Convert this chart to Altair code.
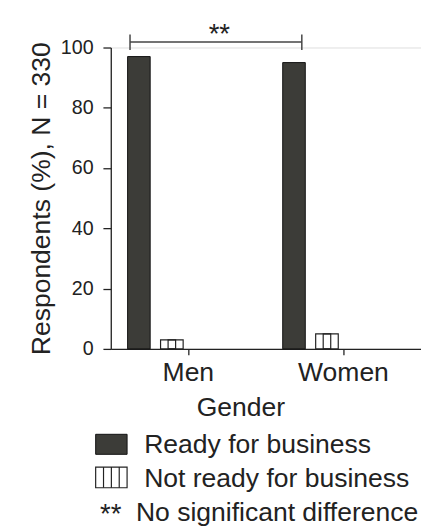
import altair as alt
import pandas as pd

# ---- data ----
genders = ["Men", "Women"]
statuses = ["Ready for business", "Not ready for business"]
ready_pct = [97, 95]
not_ready_pct = [3, 5]
slot_domain = statuses + ["(empty 1)", "(empty 2)"]
y_ticks = [0, 20, 40, 60, 80, 100]
y_title = "Respondents (%), N = 330"
x_title = "Gender"
sig_mark = "**"
legend_texts = ["Ready for business", "Not ready for business", "No significant difference"]

rows = []
for g, r, n in zip(genders, ready_pct, not_ready_pct):
    rows.append({"Gender": g, "Status": statuses[0], "Pct": r})
    rows.append({"Gender": g, "Status": statuses[1], "Pct": n})
df = pd.DataFrame(rows)

# ---- style / layout ----
W, H = 316, 307
FONT = "Liberation Sans"
DARK = "#3c3c38"
INK = "#222222"
FS = 27
PI, PO = 0.315, 0.51
band_px = W / len(genders)
offset_step = band_px / (len(slot_domain) - PI + 2 * PO)
offset_bw = offset_step * (1 - PI)
cell_px = offset_bw / 3

x_enc = alt.X(
    "Gender:N", sort=genders,
    scale=alt.Scale(paddingInner=0, paddingOuter=0),
    axis=alt.Axis(
        title=x_title, labelAngle=0, labelFont=FONT, labelFontSize=FS, labelColor=INK,
        labelBaseline="alphabetic", labelPadding=26, tickSize=6, tickColor=INK,
        tickWidth=1.3, domainColor=INK, domainWidth=1.3,
        titleFont=FONT, titleFontSize=FS, titleFontWeight="normal", titleColor=INK,
        titleX=132, titleY=68, titleBaseline="alphabetic", titleAlign="center",
    ),
)
xo_enc = alt.XOffset(
    "Status:N",
    scale=alt.Scale(domain=slot_domain, paddingInner=PI, paddingOuter=PO),
)
y_enc = alt.Y(
    "Pct:Q",
    scale=alt.Scale(domain=[0, 100]),
    axis=alt.Axis(
        values=y_ticks, title=y_title, grid=False, tickSize=8, tickColor=INK, tickWidth=1.3,
        domainColor=INK, domainWidth=1.3, labelFont=FONT, labelFontSize=20, labelColor=INK,
        labelPadding=10, titleFont=FONT, titleFontSize=FS, titleFontWeight="normal",
        titleColor=INK, titlePadding=5,
    ),
)

base = alt.Chart(df).encode(x=x_enc, xOffset=xo_enc, y=y_enc)
ready_bars = base.transform_filter(alt.datum.Status == statuses[0]).mark_bar(
    fill=DARK, stroke="#111111", strokeWidth=1
)
notready_bars = base.transform_filter(alt.datum.Status == statuses[1]).mark_bar(
    fill="white", stroke=INK, strokeWidth=1.2
)
hatch_bars = base.transform_filter(alt.datum.Status == statuses[1]).mark_bar(
    fill="white", fillOpacity=0, stroke=INK, strokeWidth=1.2, width=cell_px,
)

one = pd.DataFrame({"k": [0]})
layers = [ready_bars, notready_bars, hatch_bars]

# significance bracket (annotation)
BR_L, BR_R, BR_Y, BR_T, BR_B = 19.6, 194.6, -5.6, -13.3, 2.4
bracket_color = "#444444"
layers.append(alt.Chart(one).mark_rule(color=bracket_color, strokeWidth=1.5).encode(
    x=alt.value(BR_L), x2=alt.value(BR_R), y=alt.value(BR_Y)))
for bx in (BR_L, BR_R):
    layers.append(alt.Chart(one).mark_rule(color=bracket_color, strokeWidth=1.5).encode(
        x=alt.value(bx), y=alt.value(BR_T), y2=alt.value(BR_B)))
layers.append(alt.Chart(one).mark_text(
    font=FONT, fontSize=28, color=INK, align="center", baseline="alphabetic").encode(
    x=alt.value(110.6), y=alt.value(-4.5), text=alt.value(sig_mark)))

# custom legend (annotation)
SX0, SX1 = -15.4, 16.6
layers.append(alt.Chart(one).mark_rect(fill=DARK, stroke="#111111", strokeWidth=1).encode(
    x=alt.value(SX0), x2=alt.value(SX1), y=alt.value(394), y2=alt.value(414.4)))
layers.append(alt.Chart(one).mark_rect(fill="white", stroke=INK, strokeWidth=1.2).encode(
    x=alt.value(SX0), x2=alt.value(SX1), y=alt.value(427.4), y2=alt.value(448.4)))
for lx in (-7.4, 0.6, 8.6):
    layers.append(alt.Chart(one).mark_rule(color=INK, strokeWidth=1.2).encode(
        x=alt.value(lx), y=alt.value(427.4), y2=alt.value(448.4)))
text_rows = [(34, 413.4, legend_texts[0]), (34, 447.7, legend_texts[1]), (25.6, 482.7, legend_texts[2])]
for tx, ty, tt in text_rows:
    layers.append(alt.Chart(one).mark_text(
        font=FONT, fontSize=FS, color=INK, align="left", baseline="alphabetic").encode(
        x=alt.value(tx), y=alt.value(ty), text=alt.value(tt)))
layers.append(alt.Chart(one).mark_text(
    font=FONT, fontSize=28, color=INK, align="left", baseline="alphabetic").encode(
    x=alt.value(-11), y=alt.value(484), text=alt.value(sig_mark)))

chart = alt.layer(*layers).properties(
    width=W, height=H,
    padding={"left": 104.7, "top": 35.3, "right": 0, "bottom": 190},
    autosize=alt.AutoSizeParams(type="none"),
).configure_view(stroke=None).configure(background="white")

chart.save("out.html", embed_options={"renderer": "svg", "actions": False})
